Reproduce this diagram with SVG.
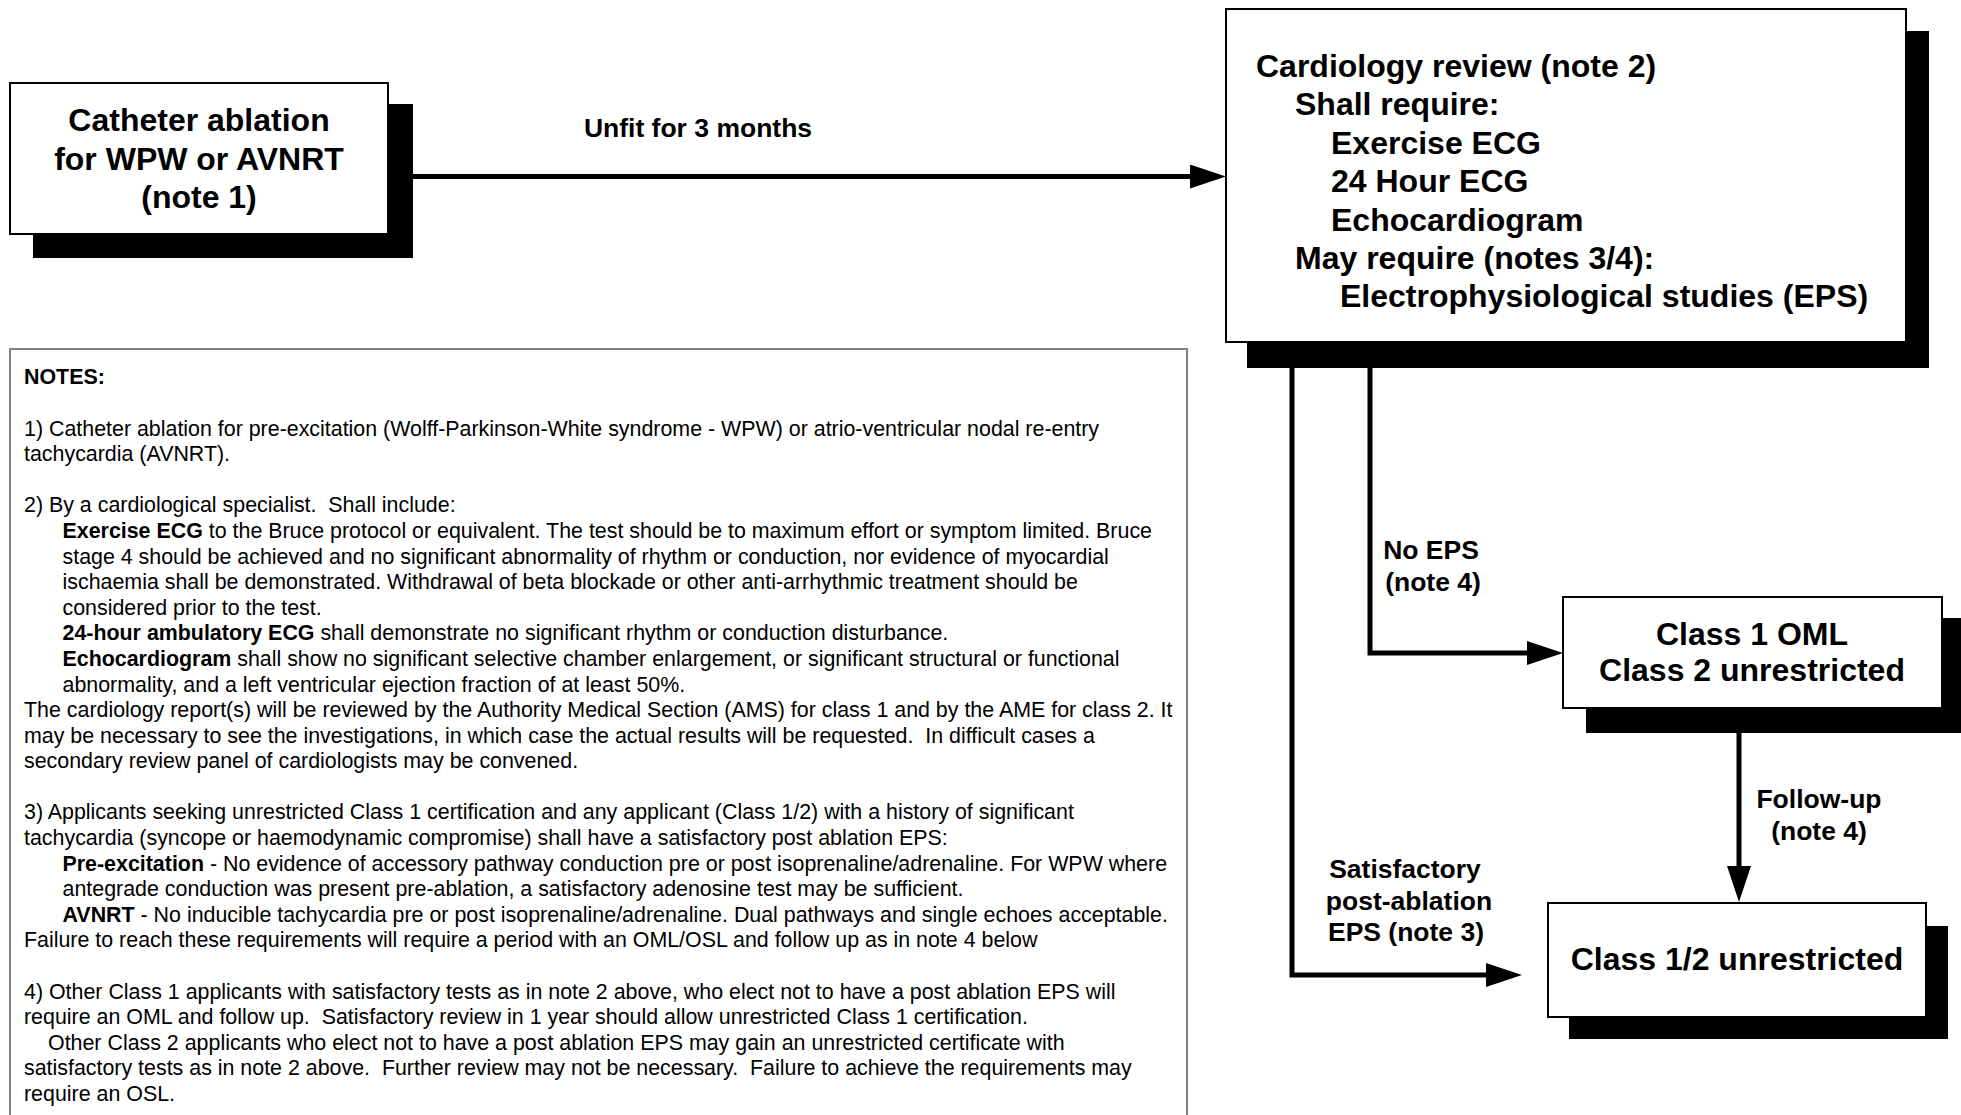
<svg xmlns="http://www.w3.org/2000/svg" width="1961" height="1115" viewBox="0 0 1961 1115">
  <defs>
    <marker id="arrow" markerUnits="userSpaceOnUse" viewBox="0 0 36 24" refX="6" refY="12" markerWidth="36" markerHeight="24" orient="auto">
      <path d="M0,0 L36,12 L0,24 Z" fill="#000"/>
    </marker>
    <style>
      .box { fill: #fff; stroke: #000; stroke-width: 2; }
      .shadow { fill: #000; }
      .title { font-family: "Liberation Sans", Arial, sans-serif; font-weight: bold; font-size: 32px; fill: #000; }
      .lbl { font-family: "Liberation Sans", Arial, sans-serif; font-weight: bold; font-size: 26.5px; fill: #000; text-anchor: middle; }
      .conn { fill: none; stroke: #000; stroke-width: 5; stroke-linejoin: miter; }
      .note { font-family: "Liberation Sans", Arial, sans-serif; font-size: 21.4px; fill: #000; white-space: pre; }
      .b { font-weight: bold; }
    </style>
  </defs>
  <rect width="1961" height="1115" fill="#fff"/>

  <g id="connectors">
    <path class="conn" d="M388,176.5 H1196" marker-end="url(#arrow)"/>
    <path class="conn" d="M1370,342 V653 H1533" marker-end="url(#arrow)"/>
    <path class="conn" d="M1292,342 V975 H1492" marker-end="url(#arrow)"/>
    <path class="conn" d="M1739,733 V872" marker-end="url(#arrow)"/>
    <text class="lbl" x="698" y="137">Unfit for 3 months</text>
    <text class="lbl" x="1431" y="559">No EPS</text>
    <text class="lbl" x="1433" y="591">(note 4)</text>
    <text class="lbl" x="1819" y="808">Follow-up</text>
    <text class="lbl" x="1819" y="840">(note 4)</text>
    <text class="lbl" x="1405" y="878">Satisfactory</text>
    <text class="lbl" x="1409" y="910">post-ablation</text>
    <text class="lbl" x="1406" y="941">EPS (note 3)</text>
  </g>

  <g id="node-ablation">
    <rect class="shadow" x="33" y="104" width="380" height="154"/>
    <rect class="box" x="10" y="83" width="378" height="151"/>
    <text class="title" x="199" y="131" text-anchor="middle">Catheter ablation</text>
    <text class="title" x="199" y="169.5" text-anchor="middle">for WPW or AVNRT</text>
    <text class="title" x="199" y="207.5" text-anchor="middle">(note 1)</text>
  </g>

  <g id="node-review">
    <rect class="shadow" x="1247" y="31" width="682" height="337"/>
    <rect class="box" x="1226" y="9" width="680" height="333"/>
    <text class="title" x="1256" y="77">Cardiology review (note 2)</text>
    <text class="title" x="1295" y="115">Shall require:</text>
    <text class="title" x="1331" y="154">Exercise ECG</text>
    <text class="title" x="1331" y="192">24 Hour ECG</text>
    <text class="title" x="1331" y="231">Echocardiogram</text>
    <text class="title" x="1295" y="269">May require (notes 3/4):</text>
    <text class="title" x="1340" y="307">Electrophysiological studies (EPS)</text>
  </g>

  <g id="node-oml">
    <rect class="shadow" x="1586" y="618" width="380" height="115"/>
    <rect class="box" x="1563" y="597" width="379" height="111"/>
    <text class="title" x="1752" y="645" text-anchor="middle">Class 1 OML</text>
    <text class="title" x="1752" y="681" text-anchor="middle">Class 2 unrestricted</text>
  </g>

  <g id="node-unrestricted">
    <rect class="shadow" x="1569" y="926" width="379" height="113"/>
    <rect class="box" x="1548" y="903" width="378" height="114"/>
    <text class="title" x="1737" y="970" text-anchor="middle">Class 1/2 unrestricted</text>
  </g>

  <g id="notes">
    <rect x="10" y="349" width="1177" height="800" fill="#fff" stroke="#808080" stroke-width="2"/>
    <text class="note b" x="24" y="384.4">NOTES:</text>
    <text class="note" x="24" y="435.6">1) Catheter ablation for pre-excitation (Wolff-Parkinson-White syndrome - WPW) or atrio-ventricular nodal re-entry</text>
    <text class="note" x="24" y="461.2">tachycardia (AVNRT).</text>
    <text class="note" x="24" y="512.3">2) By a cardiological specialist.  Shall include:</text>
    <text class="note" x="62.5" y="537.9"><tspan class="b">Exercise ECG</tspan> to the Bruce protocol or equivalent. The test should be to maximum effort or symptom limited. Bruce</text>
    <text class="note" x="62.5" y="563.5">stage 4 should be achieved and no significant abnormality of rhythm or conduction, nor evidence of myocardial</text>
    <text class="note" x="62.5" y="589.1">ischaemia shall be demonstrated. Withdrawal of beta blockade or other anti-arrhythmic treatment should be</text>
    <text class="note" x="62.5" y="614.7">considered prior to the test.</text>
    <text class="note" x="62.5" y="640.3"><tspan class="b">24-hour ambulatory ECG</tspan> shall demonstrate no significant rhythm or conduction disturbance.</text>
    <text class="note" x="62.5" y="665.9"><tspan class="b">Echocardiogram</tspan> shall show no significant selective chamber enlargement, or significant structural or functional</text>
    <text class="note" x="62.5" y="691.5">abnormality, and a left ventricular ejection fraction of at least 50%.</text>
    <text class="note" x="24" y="717.1">The cardiology report(s) will be reviewed by the Authority Medical Section (AMS) for class 1 and by the AME for class 2. It</text>
    <text class="note" x="24" y="742.7">may be necessary to see the investigations, in which case the actual results will be requested.  In difficult cases a</text>
    <text class="note" x="24" y="768.3">secondary review panel of cardiologists may be convened.</text>
    <text class="note" x="24" y="819.4">3) Applicants seeking unrestricted Class 1 certification and any applicant (Class 1/2) with a history of significant</text>
    <text class="note" x="24" y="845.0">tachycardia (syncope or haemodynamic compromise) shall have a satisfactory post ablation EPS:</text>
    <text class="note" x="62.5" y="870.6"><tspan class="b">Pre-excitation</tspan> - No evidence of accessory pathway conduction pre or post isoprenaline/adrenaline. For WPW where</text>
    <text class="note" x="62.5" y="896.2">antegrade conduction was present pre-ablation, a satisfactory adenosine test may be sufficient.</text>
    <text class="note" x="62.5" y="921.8"><tspan class="b">AVNRT</tspan> - No inducible tachycardia pre or post isoprenaline/adrenaline. Dual pathways and single echoes acceptable.</text>
    <text class="note" x="24" y="947.4">Failure to reach these requirements will require a period with an OML/OSL and follow up as in note 4 below</text>
    <text class="note" x="24" y="998.6">4) Other Class 1 applicants with satisfactory tests as in note 2 above, who elect not to have a post ablation EPS will</text>
    <text class="note" x="24" y="1024.2">require an OML and follow up.  Satisfactory review in 1 year should allow unrestricted Class 1 certification.</text>
    <text class="note" x="48" y="1049.8">Other Class 2 applicants who elect not to have a post ablation EPS may gain an unrestricted certificate with</text>
    <text class="note" x="24" y="1075.4">satisfactory tests as in note 2 above.  Further review may not be necessary.  Failure to achieve the requirements may</text>
    <text class="note" x="24" y="1101.0">require an OSL.</text>
  </g>
</svg>
